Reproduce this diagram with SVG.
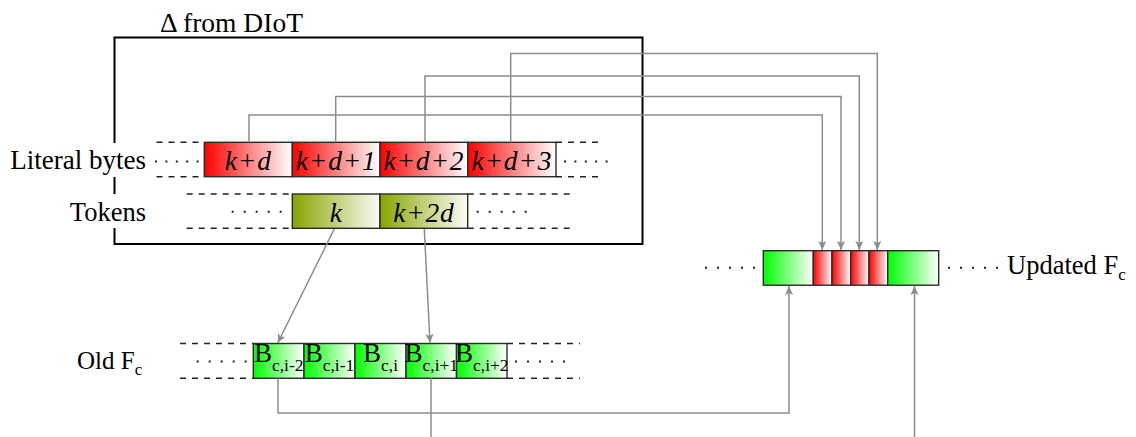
<svg xmlns="http://www.w3.org/2000/svg" width="1136" height="437" viewBox="0 0 1136 437">
  <style>
    .lbl { font-family: "Liberation Serif", "Times New Roman", serif; fill: #000; }
    .cell-txt { font-family: "Liberation Serif", "Times New Roman", serif; font-style: italic; font-size: 27.5px; letter-spacing: 0.8px; text-anchor: middle; fill: #000; }
    .b-txt { font-family: "Liberation Serif", "Times New Roman", serif; font-size: 27px; text-anchor: middle; fill: #000; }
    .cell { stroke: #2a2a2a; stroke-width: 1.4; }
    .dash { stroke: #222; stroke-width: 1.4; stroke-dasharray: 6 6; fill: none; }
    .dots { stroke: #222; stroke-width: 2; stroke-dasharray: 2 10; fill: none; }
    .dots-lit { stroke: #222; stroke-width: 2; stroke-dasharray: 2 8.4; fill: none; }
    .conn { stroke: #8c8c8c; stroke-width: 1.5; fill: none; }
    .arrow { marker-end: url(#head); }
  </style>
  <defs>
    <linearGradient id="gRed" x1="0" y1="0" x2="1" y2="0">
      <stop offset="0" stop-color="#ff0000"/>
      <stop offset="1" stop-color="#ffffff"/>
    </linearGradient>
    <linearGradient id="gGreen" x1="0" y1="0" x2="1" y2="0">
      <stop offset="0" stop-color="#00ff00"/>
      <stop offset="1" stop-color="#ffffff"/>
    </linearGradient>
    <linearGradient id="gOlive" x1="0" y1="0" x2="1" y2="0">
      <stop offset="0" stop-color="#86a500"/>
      <stop offset="1" stop-color="#fbfcf6"/>
    </linearGradient>
    <marker id="head" markerUnits="userSpaceOnUse" markerWidth="10" markerHeight="9" refX="9" refY="4.5" orient="auto" viewBox="0 0 10 9">
      <path d="M0,0.5 L9,4.5 L0,8.5 L2,4.5 z" fill="#8c8c8c"/>
    </marker>
  </defs>

  <!-- delta container -->
  <g id="delta-box">
    <rect x="114.5" y="37.5" width="528" height="206.5" fill="none" stroke="#000" stroke-width="2"/>
    <text class="lbl" x="160" y="32" font-size="27.5">Δ from DIoT</text>
  </g>

  <!-- literal bytes row -->
  <g id="literal-bytes">
    <rect x="4" y="143" width="146" height="34" fill="#fff"/>
    <text class="lbl" x="146" y="169.3" font-size="27" text-anchor="end">Literal bytes</text>
    <path class="dash" d="M156.5,142.3 H204.3 M156.5,176.7 H204.3 M556,142.3 H604 M556,176.7 H604"/>
    <path class="dots-lit" d="M155,161.5 H200"/>
    <path class="dots-lit" d="M564,161.5 H609"/>
    <rect class="cell" x="204.3" y="142.3" width="88" height="34.4" fill="url(#gRed)"/>
    <rect class="cell" x="292.3" y="142.3" width="87.7" height="34.4" fill="url(#gRed)"/>
    <rect class="cell" x="380" y="142.3" width="87.7" height="34.4" fill="url(#gRed)"/>
    <rect class="cell" x="467.7" y="142.3" width="88.3" height="34.4" fill="url(#gRed)"/>
    <text class="cell-txt" x="248.3" y="169.5">k+d</text>
    <text class="cell-txt" x="336.2" y="169.5">k+d+1</text>
    <text class="cell-txt" x="423.9" y="169.5">k+d+2</text>
    <text class="cell-txt" x="511.9" y="169.5">k+d+3</text>
  </g>

  <!-- tokens row -->
  <g id="tokens">
    <rect x="64" y="194" width="84" height="34" fill="#fff"/>
    <text class="lbl" x="146" y="220.7" font-size="26.5" text-anchor="end">Tokens</text>
    <path class="dash" d="M186.7,194 H292.3 M186.7,228.3 H292.3 M467.7,194 H573 M467.7,228.3 H573"/>
    <path class="dots" d="M231.7,211.7 H282"/>
    <path class="dots" d="M476.7,211.7 H527"/>
    <rect class="cell" x="292.3" y="194" width="87.7" height="34.3" fill="url(#gOlive)"/>
    <rect class="cell" x="380" y="194" width="87.7" height="34.3" fill="url(#gOlive)"/>
    <text class="cell-txt" x="336.2" y="221.5">k</text>
    <text class="cell-txt" x="423.9" y="221.5">k+2d</text>
  </g>

  <!-- old frame content -->
  <g id="old-fc">
    <text class="lbl" x="77" y="369.3" font-size="25">Old F<tspan font-size="17" dy="6">c</tspan></text>
    <path class="dash" d="M180,343.5 H253.3 M180,378.3 H253.3 M507,343.5 H580 M507,378.3 H580"/>
    <path class="dots" d="M196.7,361.5 H247"/>
    <path class="dots" d="M515,361.5 H565"/>
    <rect class="cell" x="253.3" y="343.5" width="50.7" height="34.8" fill="url(#gGreen)"/>
    <rect class="cell" x="304" y="343.5" width="51" height="34.8" fill="url(#gGreen)"/>
    <rect class="cell" x="355" y="343.5" width="51" height="34.8" fill="url(#gGreen)"/>
    <rect class="cell" x="406" y="343.5" width="50.5" height="34.8" fill="url(#gGreen)"/>
    <rect class="cell" x="456.5" y="343.5" width="50.5" height="34.8" fill="url(#gGreen)"/>
    <text class="b-txt" x="278.7" y="362">B<tspan font-size="17.5" dy="9">c,i-2</tspan></text>
    <text class="b-txt" x="329.5" y="362">B<tspan font-size="17.5" dy="9">c,i-1</tspan></text>
    <text class="b-txt" x="380.5" y="362">B<tspan font-size="17.5" dy="9">c,i</tspan></text>
    <text class="b-txt" x="431.3" y="362">B<tspan font-size="17.5" dy="9">c,i+1</tspan></text>
    <text class="b-txt" x="481.8" y="362">B<tspan font-size="17.5" dy="9">c,i+2</tspan></text>
  </g>

  <!-- updated frame content -->
  <g id="updated-fc">
    <path class="dots" d="M705,267.7 H755"/>
    <path class="dots" d="M948,267.7 H998"/>
    <rect class="cell" x="763.3" y="250.7" width="50" height="34.5" fill="url(#gGreen)"/>
    <rect class="cell" x="813.3" y="250.7" width="18.7" height="34.5" fill="url(#gRed)"/>
    <rect class="cell" x="832" y="250.7" width="18.7" height="34.5" fill="url(#gRed)"/>
    <rect class="cell" x="850.7" y="250.7" width="18.3" height="34.5" fill="url(#gRed)"/>
    <rect class="cell" x="869" y="250.7" width="18.7" height="34.5" fill="url(#gRed)"/>
    <rect class="cell" x="887.7" y="250.7" width="51" height="34.5" fill="url(#gGreen)"/>
    <text class="lbl" x="1007" y="274" font-size="26.5">Updated F<tspan font-size="17" dy="6">c</tspan></text>
  </g>

  <!-- connectors -->
  <g id="connectors">
    <path class="conn arrow" d="M249,142.3 V115 H822.3 V250"/>
    <path class="conn arrow" d="M335.7,142.3 V96.5 H841 V250"/>
    <path class="conn arrow" d="M425,142.3 V76 H859.3 V250"/>
    <path class="conn arrow" d="M510.7,142.3 V53.5 H877.3 V250"/>
    <path class="conn arrow" d="M334.3,229 L277.7,343"/>
    <path class="conn arrow" d="M424.3,229 L430,343"/>
    <path class="conn arrow" d="M278,378.3 V413 H789 V286"/>
    <path class="conn" d="M431,378.3 V437"/>
    <path class="conn arrow" d="M914.5,437 V286"/>
  </g>
</svg>
